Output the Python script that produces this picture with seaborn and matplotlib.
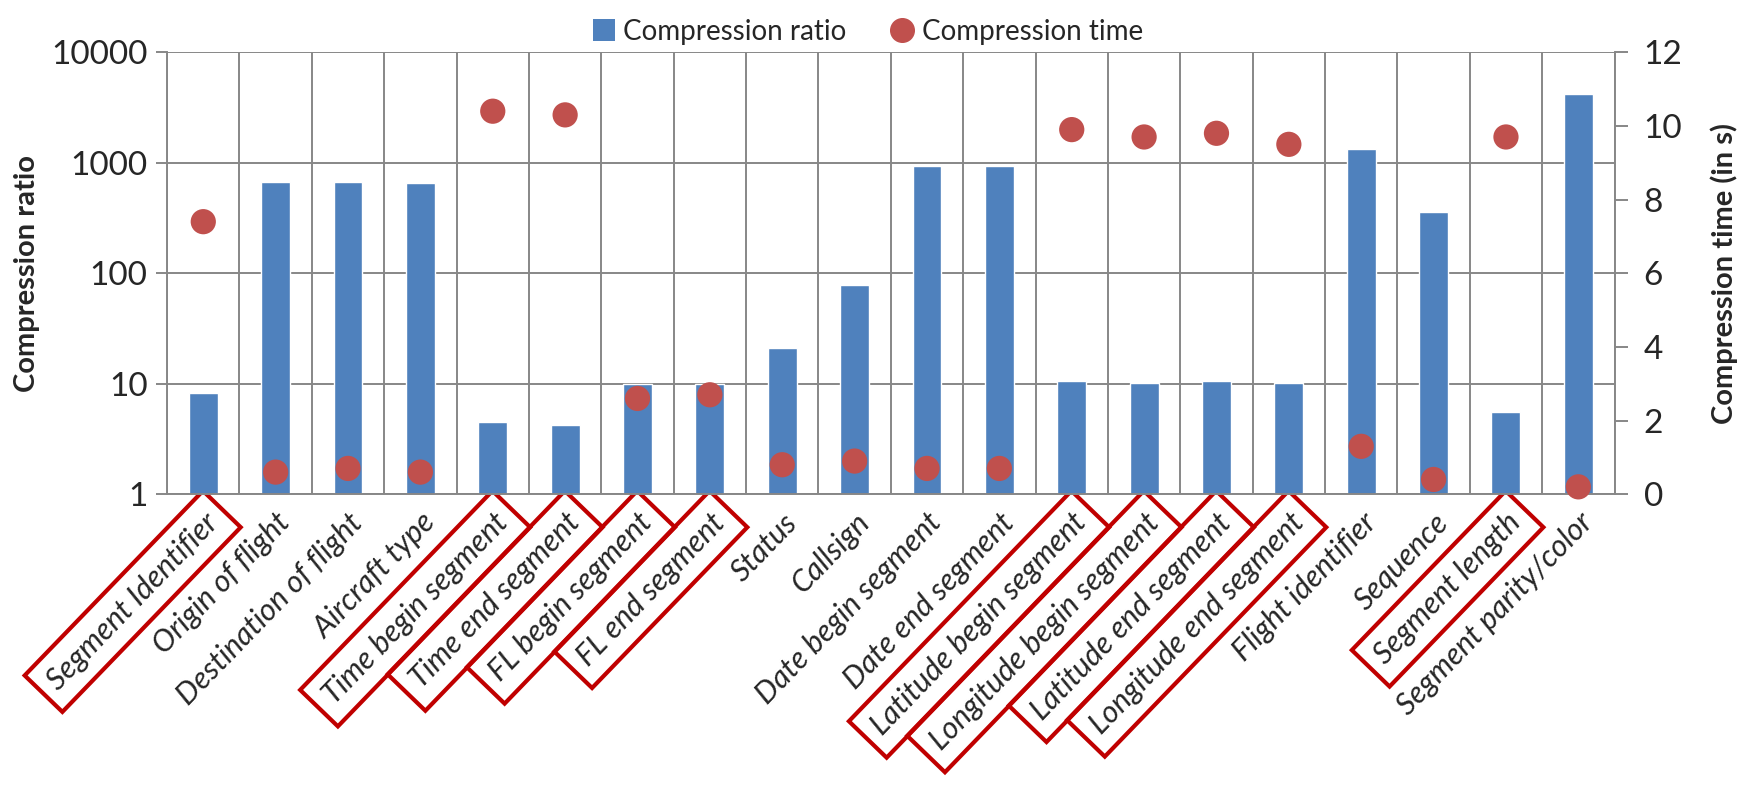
import numpy as np
import pandas as pd
import matplotlib
matplotlib.use("Agg")
import matplotlib.pyplot as plt
from matplotlib.ticker import FixedLocator, NullLocator
from matplotlib.patches import Patch
from matplotlib.lines import Line2D
import seaborn as sns

categories = [
    "Segment Identifier", "Origin of flight", "Destination of flight", "Aircraft type",
    "Time begin segment", "Time end segment", "FL begin segment", "FL end segment",
    "Status", "Callsign", "Date begin segment", "Date end segment",
    "Latitude begin segment", "Longitude begin segment", "Latitude end segment",
    "Longitude end segment", "Flight identifier", "Sequence", "Segment length",
    "Segment parity/color",
]
compression_ratio = [8.3, 665, 665, 650, 4.5, 4.2, 10.0, 10.0, 21, 78, 930, 930,
                     10.6, 10.2, 10.6, 10.2, 1330, 360, 5.6, 4200]
compression_time = [7.4, 0.6, 0.7, 0.6, 10.4, 10.3, 2.6, 2.7, 0.8, 0.9, 0.7, 0.7,
                    9.9, 9.7, 9.8, 9.5, 1.3, 0.4, 9.7, 0.2]
boxed_labels = [
    "Segment Identifier", "Time begin segment", "Time end segment", "FL begin segment",
    "FL end segment", "Latitude begin segment", "Longitude begin segment",
    "Latitude end segment", "Longitude end segment", "Segment length",
]
ratio_ticks = [1, 10, 100, 1000, 10000]
time_ticks = [0, 2, 4, 6, 8, 10, 12]

BAR = "#4F81BD"
DOT = "#C0504D"
GRID = "#878787"
BOX = "#C00000"

sns.set_theme(style="white")
plt.rcParams["font.family"] = ["Lato", "DejaVu Sans"]

df = pd.DataFrame({"field": categories, "ratio": compression_ratio,
                   "time": compression_time, "pos": np.arange(len(categories))})

fig = plt.figure(figsize=(17.46, 7.92), dpi=100)
ax = fig.add_axes([0.0957, 0.376, 0.829, 0.558])
ax.set_yscale("log")
sns.barplot(data=df, x="field", y="ratio", ax=ax, color=BAR, saturation=1,
            width=0.4, order=categories)
ax.set_ylim(1, 10000)
ax.set_xlim(-0.5, len(categories) - 0.5)
ax.yaxis.set_major_locator(FixedLocator(ratio_ticks))
ax.yaxis.set_minor_locator(NullLocator())
ax.set_yticklabels([str(t) for t in ratio_ticks], fontsize=24)
ax.set_axisbelow(True)
ax.yaxis.grid(True, which="major", color=GRID, lw=1.4)
ax.xaxis.set_minor_locator(FixedLocator(np.arange(-0.5, len(categories), 1.0)))
ax.xaxis.grid(True, which="minor", color=GRID, lw=1.4)
ax.tick_params(axis="x", which="major", length=0, pad=10)
ax.tick_params(axis="x", which="minor", length=10, color=GRID, width=1.4, direction="out")
ax.tick_params(axis="y", which="major", length=8, color=GRID, width=1.4, direction="out", pad=6)
ax.set_xticks(np.arange(len(categories)))
ax.set_xticklabels(categories, rotation=46, ha="right", rotation_mode="anchor",
                   fontsize=22, style="italic")
for lab in ax.get_xticklabels():
    if lab.get_text() in boxed_labels:
        lab.set_bbox(dict(boxstyle="square,pad=0.4", fc="none", ec=BOX, lw=3))
ax.set_xlabel("")
ax.set_ylabel("Compression ratio", fontsize=21, fontweight="bold", labelpad=8)
for s in ["left", "bottom"]:
    ax.spines[s].set_color(GRID)
    ax.spines[s].set_linewidth(1.4)
for s in ["top", "right"]:
    ax.spines[s].set_visible(False)

ax2 = ax.twinx()
sns.scatterplot(data=df, x="pos", y="time", ax=ax2, color=DOT, s=330,
                edgecolor="none", legend=False, clip_on=False, zorder=5)
ax2.set_ylim(0, 12)
ax2.set_yticks(time_ticks)
ax2.set_yticklabels([str(t) for t in time_ticks], fontsize=24)
ax2.tick_params(axis="y", length=9, color=GRID, width=1.4, direction="out", pad=12)
ax2.set_ylabel("Compression time (in s)", fontsize=21, fontweight="bold",
               rotation=90, labelpad=20)
ax2.set_xlabel("")
for s in ["left", "bottom", "top"]:
    ax2.spines[s].set_visible(False)
ax2.spines["right"].set_color(GRID)
ax2.spines["right"].set_linewidth(1.4)
ax2.grid(False)

handles = [Patch(facecolor=BAR, edgecolor="none"),
           Line2D([], [], marker="o", color=DOT, linestyle="none", markersize=17)]
fig.legend(handles, ["Compression ratio", "Compression time"], loc="upper center",
           bbox_to_anchor=(0.497, 1.008), ncol=2, frameon=False, fontsize=20,
           handlelength=0.8, handleheight=0.8, handletextpad=0.3, columnspacing=1.6)

fig.savefig("out.png", dpi=100)
